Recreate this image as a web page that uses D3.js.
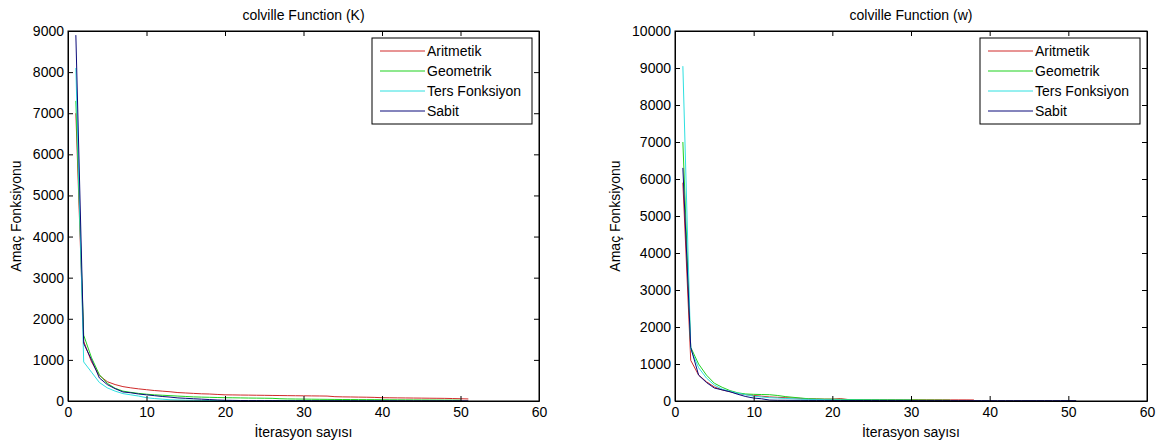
<!DOCTYPE html>
<html>
<head>
<meta charset="utf-8">
<script src="https://cdn.jsdelivr.net/npm/d3@7"></script>
<style>
  body { margin: 0; background: #fff; }
  svg { font-family: "Liberation Sans", Arial, sans-serif; }
  .axis path, .axis line { stroke: #000; }
  .axis text { font-size: 14px; fill: #000; }
</style>
</head>
<body>
<svg id="chart" width="1162" height="447"></svg>
<script>
// series names + colours
var seriesNames = ["Aritmetik", "Geometrik", "Ters Fonksiyon", "Sabit"];
var seriesColors = ["#d02a2a", "#1fd11f", "#2ee0e0", "#0a0a7a"];

// x ticks are shared
var xTicks = [0, 10, 20, 30, 40, 50, 60];

// --- left chart: colville Function (K) --- values per iteration (1..n)
var kTicks = [0, 1000, 2000, 3000, 4000, 5000, 6000, 7000, 8000, 9000];
var kAritmetik = [7000, 1450, 950, 620, 470, 400, 350, 320, 295, 275, 255, 240, 225, 205, 195, 185, 175, 170, 160, 150,
  148, 145, 143, 140, 138, 135, 133, 130, 128, 126, 124, 122, 120, 105, 100, 98, 95, 92, 88, 80,
  78, 76, 74, 72, 70, 68, 66, 64, 60, 55, 50];
var kGeometrik = [7300, 1600, 1050, 640, 430, 310, 240, 210, 185, 165, 150, 140, 130, 120, 110, 100, 95, 90, 85, 80,
  78, 75, 72, 70, 68, 65, 55, 50, 48, 46, 44, 42, 40, 38, 36, 35, 34, 33, 32, 30,
  29, 28, 27, 26, 25, 24, 23, 22, 21, 20];
var kTers = [8100, 950, 700, 450, 320, 240, 180, 150, 120, 80, 60, 45, 30, 25, 20, 18, 15, 12, 10, 10,
  8, 8, 7, 7, 6, 6, 6, 5, 5, 5, 5, 4, 4, 4, 4, 3, 3, 3, 3, 3, 2, 2];
var kSabit = [8900, 1400, 1000, 560, 400, 300, 220, 200, 170, 150, 130, 110, 95, 75, 65, 55, 45, 35, 25, 18,
  15, 12, 10, 10, 9, 9, 8, 8, 8, 7, 7, 7, 6, 6, 6, 6, 5, 5, 5, 5,
  5, 5, 5, 4, 4, 4, 4, 4, 4, 4, 4];

// --- right chart: colville Function (w) ---
var wTicks = [0, 1000, 2000, 3000, 4000, 5000, 6000, 7000, 8000, 9000, 10000];
var wAritmetik = [5900, 1100, 700, 520, 380, 300, 250, 200, 170, 150, 130, 110, 100, 90, 80, 70, 60, 55, 50, 50,
  65, 40, 38, 36, 35, 34, 33, 32, 31, 30, 30, 30, 30, 30, 30, 30, 30, 28];
var wGeometrik = [7000, 1450, 1000, 700, 480, 370, 280, 220, 190, 180, 175, 170, 150, 120, 100, 80, 60, 55, 50, 50,
  45, 40, 38, 36, 35, 34, 33, 32, 31, 30, 28, 26, 25, 24, 22];
var wTers = [9050, 1400, 900, 620, 430, 320, 260, 210, 170, 130, 110, 90, 80, 70, 60, 50, 45, 40, 35, 30,
  28, 26, 25, 24, 23, 22, 21, 20, 20, 20];
var wSabit = [6300, 1450, 700, 500, 350, 300, 250, 180, 120, 80, 60, 25, 20, 20, 18, 18, 16, 16, 15, 15,
  14, 14, 13, 13, 12, 12, 12, 11, 11, 11, 10, 10, 10, 10, 10, 10, 10, 10, 10, 10,
  10, 10, 10, 10, 10, 10, 10, 10, 10, 10, 10];

var svg = d3.select("#chart");

function drawChart(opts) {
  var g = svg.append("g");
  var x = d3.scaleLinear().domain([0, 60]).range([opts.left, opts.right]);
  var y = d3.scaleLinear().domain([0, opts.yMax]).range([opts.bottom, opts.top]);

  // series lines
  var line = d3.line()
    .x(function(d, i) { return x(i + 1); })
    .y(function(d) { return y(d); });

  opts.series.forEach(function(s, i) {
    g.append("path")
      .datum(s)
      .attr("fill", "none")
      .attr("stroke", seriesColors[i])
      .attr("stroke-width", 1)
      .attr("d", line);
  });

  // axes, ticks pointing inwards like matlab
  var tk = 5;
  g.append("g").attr("class", "axis")
    .attr("transform", "translate(0," + opts.bottom + ")")
    .call(d3.axisBottom(x).tickValues(xTicks).tickFormat(d3.format("d")).tickSizeInner(-tk).tickSizeOuter(0).tickPadding(5))
    .selectAll("text").attr("dy", "0.8em");
  g.append("g").attr("class", "axis")
    .attr("transform", "translate(0," + opts.top + ")")
    .call(d3.axisTop(x).tickValues(xTicks).tickSizeInner(-tk).tickSizeOuter(0).tickFormat(""));
  g.append("g").attr("class", "axis")
    .attr("transform", "translate(" + opts.left + ",0)")
    .call(d3.axisLeft(y).tickValues(opts.yTicks).tickFormat(d3.format("d")).tickSizeInner(-tk).tickSizeOuter(0).tickPadding(4));
  g.append("g").attr("class", "axis")
    .attr("transform", "translate(" + opts.right + ",0)")
    .call(d3.axisRight(y).tickValues(opts.yTicks).tickSizeInner(-tk).tickSizeOuter(0).tickFormat(""));

  // box
  g.append("rect")
    .attr("x", opts.left).attr("y", opts.top)
    .attr("width", opts.right - opts.left).attr("height", opts.bottom - opts.top)
    .attr("fill", "none").attr("stroke", "#000");

  var cx = (opts.left + opts.right) / 2;
  g.append("text")
    .attr("x", cx).attr("y", 20)
    .attr("text-anchor", "middle").style("font-size", "14px")
    .text(opts.title);
  g.append("text")
    .attr("x", cx).attr("y", 437)
    .attr("text-anchor", "middle").style("font-size", "14px")
    .text("İterasyon sayısı");
  g.append("text")
    .attr("transform", "translate(" + opts.yLabelX + "," + ((opts.top + opts.bottom) / 2) + ") rotate(-90)")
    .attr("text-anchor", "middle").style("font-size", "14px")
    .text("Amaç Fonksiyonu");

  // legend
  var lg = g.append("g").attr("transform", "translate(" + (opts.right - 167) + "," + (opts.top + 7) + ")");
  lg.append("rect")
    .attr("width", 160).attr("height", 86)
    .attr("fill", "#fff").attr("stroke", "#000");
  seriesNames.forEach(function(name, i) {
    var ly = 13 + i * 20;
    lg.append("line")
      .attr("x1", 8).attr("x2", 53).attr("y1", ly).attr("y2", ly)
      .attr("stroke", seriesColors[i]);
    lg.append("text")
      .attr("x", 55).attr("y", ly).attr("dy", "0.35em")
      .style("font-size", "14px")
      .text(name);
  });
}

drawChart({
  left: 68, right: 539, top: 31, bottom: 401,
  yMax: 9000, yTicks: kTicks, yLabelX: 21,
  title: "colville Function (K)",
  series: [kAritmetik, kGeometrik, kTers, kSabit]
});

drawChart({
  left: 675, right: 1147, top: 31, bottom: 401,
  yMax: 10000, yTicks: wTicks, yLabelX: 620,
  title: "colville Function (w)",
  series: [wAritmetik, wGeometrik, wTers, wSabit]
});
</script>
</body>
</html>
